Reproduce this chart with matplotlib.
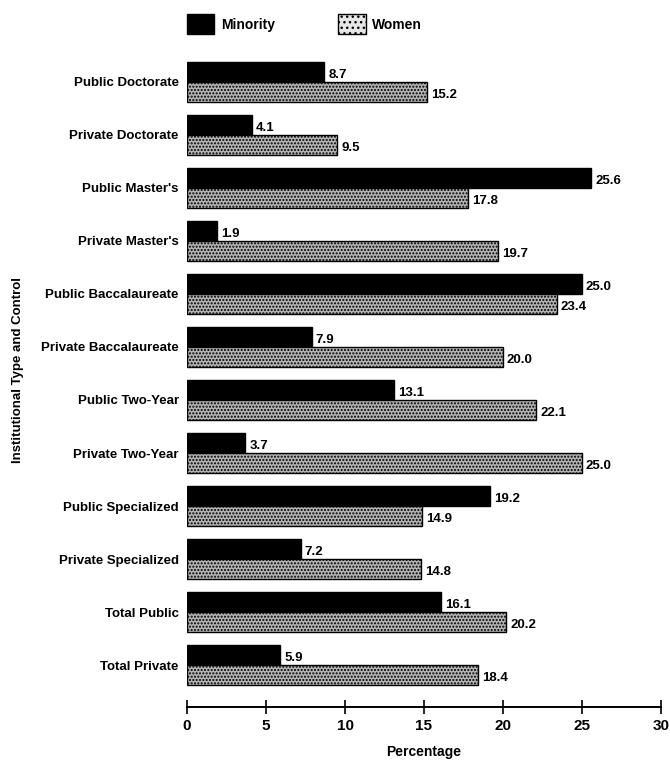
import numpy as np
import matplotlib
matplotlib.use("Agg")
import matplotlib.pyplot as plt
from matplotlib.patches import Patch

categories = ["Public Doctorate", "Private Doctorate", "Public Master's", "Private Master's",
              "Public Baccalaureate", "Private Baccalaureate", "Public Two-Year", "Private Two-Year",
              "Public Specialized", "Private Specialized", "Total Public", "Total Private"]
minority = [8.7, 4.1, 25.6, 1.9, 25.0, 7.9, 13.1, 3.7, 19.2, 7.2, 16.1, 5.9]
women = [15.2, 9.5, 17.8, 19.7, 23.4, 20.0, 22.1, 25.0, 14.9, 14.8, 20.2, 18.4]
xticks = [0, 5, 10, 15, 20, 25, 30]

plt.rcParams['font.family'] = ['Liberation Sans Narrow', 'Liberation Sans', 'DejaVu Sans']
plt.rcParams['hatch.color'] = '#3a3a3a'
plt.rcParams['hatch.linewidth'] = 1.0

fig = plt.figure(figsize=(6.7, 7.65), dpi=100)
ax = fig.add_axes([187/670, 1 - 707/765, (661-187)/670, (707-50)/765])

y = np.arange(len(categories))
h = 0.38
ax.barh(y - h/2, minority, height=h, color='black', edgecolor='black', linewidth=1)
ax.barh(y + h/2, women, height=h, color='#b4b4b4', edgecolor='black', linewidth=1, hatch='.....')

for i in range(len(categories)):
    ax.text(minority[i] + 0.25, y[i] - h/2 + 0.06, "%.1f" % minority[i], va='center', ha='left',
            fontsize=9.5, fontweight='bold')
    ax.text(women[i] + 0.25, y[i] + h/2 + 0.06, "%.1f" % women[i], va='center', ha='left',
            fontsize=9.5, fontweight='bold')

ax.set_ylim(11.79, -0.6)
ax.set_xlim(0, 30)
ax.set_yticks(y)
ax.set_yticklabels(categories, fontsize=9.5, fontweight='bold')
ax.tick_params(axis='y', length=0, pad=6)
ax.set_xticks(xticks)
ax.set_xticklabels([str(t) for t in xticks], fontsize=11, fontweight='bold')
ax.tick_params(axis='x', direction='inout', length=10, width=1.2, pad=4)
for s in ['top', 'right', 'left']:
    ax.spines[s].set_visible(False)
ax.spines['bottom'].set_linewidth(1.4)
ax.set_xlabel("Percentage", fontsize=10, fontweight='bold', labelpad=8)
fig.text(18/670, 1 - 370/765, "Institutional Type and Control", rotation=90, va='center', ha='center',
         fontsize=9.5, fontweight='bold')

handles = [Patch(facecolor='black', edgecolor='black', label='Minority'),
           Patch(facecolor='#e6e6e6', edgecolor='black', hatch='...', label='Women')]
fig.legend(handles=handles, loc='upper left', bbox_to_anchor=(174/670, 1 - 2/765), ncol=2,
           frameon=False, handlelength=2.0, handleheight=1.8, handletextpad=0.5, columnspacing=4.5,
           prop={'weight': 'bold', 'size': 10})

fig.savefig("out.png", dpi=100)
